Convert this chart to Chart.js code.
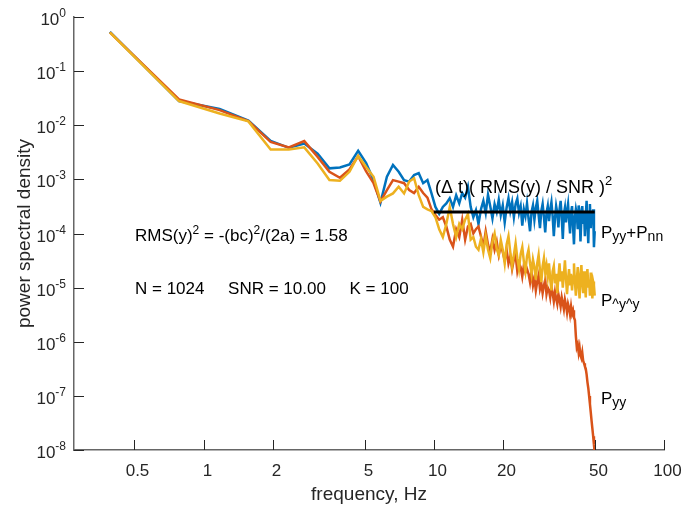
<!DOCTYPE html>
<html lang="en">
  <head>
    <meta charset="UTF-8" />
    <title>Power spectral density - Chart.js</title>
    <script src="https://cdn.jsdelivr.net/npm/chart.js"></script>
    <style>
      body {
        margin: 0;
        background: #fff;
      }
    </style>
  </head>
  <body>
    <canvas id="psdChart" width="692" height="510"></canvas>
    <script>
      // frequency grid (Hz)
      const freq = [
        0.391, 0.781, 1.172, 1.563, 1.953, 2.344, 2.734, 3.125, 3.516, 3.906,
        4.297, 4.688, 5.078, 5.469, 5.859, 6.25, 6.641, 7.031, 7.422, 7.813,
        8.203, 8.594, 8.984, 9.375, 9.766, 10.156, 10.547, 10.938, 11.328, 11.719,
        12.109, 12.5, 12.891, 13.281, 13.672, 14.063, 14.453, 14.844, 15.234, 15.625,
        16.016, 16.406, 16.797, 17.188, 17.578, 17.969, 18.359, 18.75, 19.141, 19.531,
        19.922, 20.313, 20.703, 21.094, 21.484, 21.875, 22.266, 22.656, 23.047, 23.438,
        23.828, 24.219, 24.609, 25, 25.391, 25.781, 26.172, 26.563, 26.953, 27.344,
        27.734, 28.125, 28.516, 28.906, 29.297, 29.688, 30.078, 30.469, 30.859, 31.25,
        31.641, 32.031, 32.422, 32.813, 33.203, 33.594, 33.984, 34.375, 34.766, 35.156,
        35.547, 35.938, 36.328, 36.719, 37.109, 37.5, 37.891, 38.281, 38.672, 39.063,
        39.453, 39.844, 40.234, 40.625, 41.016, 41.406, 41.797, 42.188, 42.578, 42.969,
        43.359, 43.75, 44.141, 44.531, 44.922, 45.313, 45.703, 46.094, 46.484, 46.875,
        47.266, 47.656, 48.047, 48.438, 48.828, 49.219, 49.609, 50
      ];

      // P_yy + P_nn (blue)
      const pyyPnn = [
        0.53, 0.028, 0.020, 0.0122, 5.15e-3, 3.83e-3, 4.6e-3, 3.0e-3, 1.6e-3, 1.66e-3,
        1.89e-3, 3.37e-3, 2.0e-3, 9.7e-4, 3.7e-4, 1.12e-3, 1.84e-3, 1.38e-3, 9.7e-4, 9.1e-4,
        1.2e-3, 1.3e-3, 8.5e-4, 9.7e-4, 5.5e-4, 3.1e-4, 2.3e-4, 3.1e-4, 3.6e-4, 4.5e-4,
        3.1e-4, 5.1e-4, 3.6e-4, 5.6e-4, 4.6e-4, 7.3e-4, 3.1e-4, 2.0e-4, 2.7e-4, 1.5e-4,
        2.8e-4, 4.0e-4, 2.4e-4, 5.2e-4, 3.2e-4, 1.9e-4, 3.5e-4, 2.5e-4, 4.2e-4, 2.2e-4,
        3.3e-4, 1.6e-4, 3.0e-4, 4.5e-4, 2.6e-4, 3.8e-4, 2.0e-4, 3.5e-4, 4.4e-4, 2.4e-4,
        3.2e-4, 1.4e-4, 2.8e-4, 2.1e-4, 3.6e-4, 1.9e-4, 1.1e-4, 2.5e-4, 3.3e-4, 1.8e-4,
        3.0e-4, 4.0e-4, 2.2e-4, 1.26e-4, 2.6e-4, 3.5e-4, 2.0e-4, 1.05e-4, 2.4e-4, 3.2e-4,
        1.7e-4, 2.8e-4, 3.8e-4, 2.1e-4, 8.9e-5, 1.9e-4, 3.2e-4, 2.4e-4, 1.3e-4, 2.75e-4,
        4.0e-4, 2.0e-4, 7.9e-5, 2.3e-4, 3.0e-4, 1.6e-4, 2.6e-4, 3.5e-4, 1.8e-4, 1.0e-4,
        2.4e-4, 3.2e-4, 1.4e-4, 6.3e-5, 2.0e-4, 2.8e-4, 2.2e-4, 1.2e-4, 3.3e-4, 2.5e-4,
        7.1e-5, 1.9e-4, 3.2e-4, 1.5e-4, 2.5e-4, 8.9e-5, 2.1e-4, 4.0e-4, 1.7e-4, 6.6e-5,
        2.4e-4, 3.5e-4, 1.26e-4, 2.5e-4, 1.8e-4, 2.8e-4, 5.6e-5, 1.1e-4
      ];

      // P_yy (red)
      const pyy = [
        0.52, 0.030, 0.019, 0.0120, 4.94e-3, 3.88e-3, 5.1e-3, 2.6e-3, 1.38e-3, 1.07e-3,
        1.53e-3, 2.69e-3, 1.4e-3, 8.5e-4, 3.9e-4, 6.35e-4, 9.7e-4, 9.1e-4, 8.5e-4, 6.35e-4,
        5.6e-4, 7.3e-4, 5.6e-4, 4.6e-4, 2.8e-4, 2.2e-4, 1.8e-4, 2.0e-4, 1.35e-4, 7.7e-5,
        5.7e-5, 1.2e-4, 8.6e-5, 1.8e-4, 7.7e-5, 1.35e-4, 1.5e-4, 1.0e-4, 1.2e-4, 1.35e-4,
        8.9e-5, 5.6e-5, 1.1e-4, 6.3e-5, 4.5e-5, 7.9e-5, 5.0e-5, 7.1e-5, 4.0e-5, 6.0e-5,
        4.5e-5, 3.2e-5, 5.0e-5, 2.8e-5, 3.8e-5, 2.2e-5, 3.3e-5, 4.0e-5, 2.0e-5, 2.8e-5,
        2.4e-5, 1.6e-5, 2.6e-5, 1.9e-5, 2.2e-5, 1.8e-5, 1.26e-5, 2.0e-5, 1.1e-5, 1.5e-5,
        8.9e-6, 1.3e-5, 1.7e-5, 9.5e-6, 1.2e-5, 7.9e-6, 1.1e-5, 1.4e-5, 7.6e-6, 1.0e-5,
        8.9e-6, 6.6e-6, 1.05e-5, 7.9e-6, 5.6e-6, 8.3e-6, 6.3e-6, 5.0e-6, 7.6e-6, 6.0e-6,
        4.5e-6, 6.6e-6, 5.2e-6, 4.0e-6, 6.0e-6, 4.8e-6, 3.5e-6, 5.0e-6, 4.2e-6, 3.2e-6,
        4.5e-6, 3.3e-6, 3.8e-6, 2.8e-6, 2.5e-6, 1.26e-6, 7.9e-7, 8.9e-7, 6.3e-7, 7.9e-7,
        5.6e-7, 5.0e-7, 6.3e-7, 4.5e-7, 4.0e-7, 3.5e-7, 3.2e-7, 2.5e-7, 1.8e-7, 1.4e-7,
        1.0e-7, 7.1e-8, 5.0e-8, 3.5e-8, 2.5e-8, 1.8e-8, 1.26e-8, 8.9e-9
      ];

      // P^y^y (yellow)
      const pHat = [
        0.52, 0.028, 0.0165, 0.0118, 3.57e-3, 3.57e-3, 3.9e-3, 1.97e-3, 9.7e-4, 9.4e-4,
        1.38e-3, 2.73e-3, 1.7e-3, 1.12e-3, 4.0e-4, 4.8e-4, 5.5e-4, 7.3e-4, 5.5e-4, 9.1e-4,
        1.05e-3, 5.1e-4, 3.1e-4, 2.8e-4, 2.6e-4, 2.0e-4, 1.2e-4, 8.6e-5, 1.5e-4, 3.1e-4,
        1.5e-4, 8.6e-5, 1.5e-4, 1.2e-4, 1.8e-4, 2.3e-4, 7.7e-5, 8.6e-5, 5.7e-5, 5.0e-5,
        7.9e-5, 4.5e-5, 8.9e-5, 5.0e-5, 3.5e-5, 7.1e-5, 1.0e-4, 5.2e-5, 4.0e-5, 7.6e-5,
        5.0e-5, 2.8e-5, 6.3e-5, 8.9e-5, 4.5e-5, 2.5e-5, 4.0e-5, 6.6e-5, 3.5e-5, 2.2e-5,
        4.2e-5, 5.6e-5, 3.0e-5, 2.0e-5, 3.8e-5, 5.0e-5, 2.8e-5, 1.8e-5, 3.3e-5, 2.4e-5,
        1.4e-5, 2.8e-5, 4.0e-5, 2.1e-5, 1.26e-5, 2.5e-5, 3.5e-5, 1.9e-5, 2.6e-5, 1.6e-5,
        2.8e-5, 1.4e-5, 8.9e-6, 2.0e-5, 2.5e-5, 1.2e-5, 1.8e-5, 7.9e-6, 1.6e-5, 2.8e-5,
        1.3e-5, 2.0e-5, 1.0e-5, 1.7e-5, 3.2e-5, 1.5e-5, 7.6e-6, 1.4e-5, 2.2e-5, 1.1e-5,
        1.8e-5, 8.9e-6, 1.6e-5, 2.8e-5, 1.26e-5, 7.1e-6, 1.4e-5, 2.4e-5, 1.1e-5, 6.3e-6,
        1.7e-5, 2.6e-5, 1.2e-5, 7.9e-6, 2.0e-5, 1.26e-5, 6.6e-6, 1.6e-5, 2.2e-5, 1.0e-5,
        1.4e-5, 7.1e-6, 1.9e-5, 1.1e-5, 6.3e-6, 1.3e-5, 1.1e-5, 7.1e-6
      ];

      // (dt)(RMS(y)/SNR)^2 level
      const floorX = [10, 50];
      const floorLevel = 2.5e-4;

      const xTicks = [0.5, 1, 2, 5, 10, 20, 50, 100];
      const xTickLabels = ['0.5', '1', '2', '5', '10', '20', '50', '100'];
      const yTickExps = [0, -1, -2, -3, -4, -5, -6, -7, -8];

      const FONT = '"Liberation Sans", Arial, sans-serif';
      const INK = '#262626';

      // draw text pieces with superscripts / subscripts
      function richText(ctx, parts, x, y, size, alignRight) {
        const supSize = Math.round(size * 0.72);
        const subSize = Math.round(size * 0.85);
        const fontFor = (k) => (k === 'sup' ? supSize : k === 'sub' ? subSize : size) + 'px ' + FONT;
        let w = 0;
        const segs = parts.map(([t, k]) => {
          ctx.font = fontFor(k);
          const m = ctx.measureText(t).width;
          w += m;
          return { t, k, m };
        });
        let cx = alignRight ? x - w : x;
        ctx.textAlign = 'left';
        ctx.textBaseline = 'alphabetic';
        segs.forEach((s) => {
          ctx.font = fontFor(s.k);
          let dy = 0;
          if (s.k === 'sup') dy = -size * 0.42;
          if (s.k === 'sub') dy = size * 0.2;
          ctx.fillText(s.t, cx, y + dy);
          cx += s.m;
        });
      }

      const decorations = {
        id: 'decorations',
        afterDraw(chart) {
          const ctx = chart.ctx;
          const xs = chart.scales.x;
          const ys = chart.scales.y;
          const a = chart.chartArea;
          ctx.save();
          ctx.fillStyle = INK;
          ctx.strokeStyle = INK;
          ctx.lineWidth = 1;

          // y ticks (inward) and labels 10^n
          yTickExps.forEach((e) => {
            const py = Math.round(ys.getPixelForValue(Math.pow(10, e))) + 0.5;
            ctx.beginPath();
            ctx.moveTo(a.left, py);
            ctx.lineTo(a.left + 10, py);
            ctx.stroke();
            richText(ctx, [['10'], [String(e), 'sup']], a.left - 8, py + 7, 17, true);
          });

          // x ticks (inward) and labels
          xTicks.forEach((v, i) => {
            const px = Math.round(xs.getPixelForValue(v)) + 0.5;
            ctx.beginPath();
            ctx.moveTo(px, a.bottom);
            ctx.lineTo(px, a.bottom - 10);
            ctx.stroke();
            ctx.font = '17px ' + FONT;
            ctx.textAlign = 'center';
            ctx.textBaseline = 'alphabetic';
            ctx.fillText(xTickLabels[i], px + 3, a.bottom + 26);
          });

          // axis titles
          ctx.font = '19px ' + FONT;
          ctx.textAlign = 'center';
          ctx.fillText('frequency, Hz', (a.left + a.right) / 2, 500);
          ctx.save();
          ctx.translate(30, (a.top + a.bottom) / 2);
          ctx.rotate(-Math.PI / 2);
          ctx.fillText('power spectral density', 0, 0);
          ctx.restore();

          // annotations
          ctx.fillStyle = '#000';
          richText(ctx, [['RMS(y)'], ['2', 'sup'], [' = -(bc)'], ['2', 'sup'], ['/(2a) = 1.58']], 135, 241, 17);
          richText(ctx, [['N = 1024     SNR = 10.00     K = 100']], 135, 294, 17);
          richText(ctx, [['(\u0394 t)( RMS(y) / SNR )'], ['2', 'sup']], 435, 193, 18);
          richText(ctx, [['P'], ['yy', 'sub'], ['+P'], ['nn', 'sub']], 601, 238, 17);
          richText(ctx, [['P'], ['^y^y', 'sub']], 601, 306, 17);
          richText(ctx, [['P'], ['yy', 'sub']], 601, 404, 17);
          ctx.restore();
        },
      };

      const toPts = (ys) => freq.map((f, i) => ({ x: f, y: ys[i] }));

      const line = (label, ys, color, order) => ({
        label: label,
        data: toPts(ys),
        borderColor: color,
        backgroundColor: color,
        borderWidth: 2.5,
        pointRadius: 0,
        tension: 0,
        fill: false,
        order: order,
      });

      const ctx = document.getElementById('psdChart').getContext('2d');
      new Chart(ctx, {
        type: 'line',
        data: {
          datasets: [
            {
              label: 'noise level',
              data: floorX.map((f) => ({ x: f, y: floorLevel })),
              borderColor: '#000',
              borderWidth: 3,
              pointRadius: 0,
              order: 0,
            },
            line('P^y^y', pHat, '#EDB120', 1),
            line('Pyy', pyy, '#D95319', 2),
            line('Pyy+Pnn', pyyPnn, '#0072BD', 3),
          ],
        },
        options: {
          responsive: false,
          animation: false,
          layout: { padding: { top: 17, right: 28, left: 0, bottom: 0 } },
          plugins: { legend: { display: false }, tooltip: { enabled: false } },
          scales: {
            x: {
              type: 'logarithmic',
              min: 0.273,
              max: 100,
              grid: { display: false, drawTicks: false },
              border: { display: true, color: '#666', width: 1.5 },
              ticks: { display: false },
              afterFit: (s) => {
                s.height = 60;
              },
            },
            y: {
              type: 'logarithmic',
              min: 1e-8,
              max: 1,
              grid: { display: false, drawTicks: false },
              border: { display: true, color: '#666', width: 1.5 },
              ticks: { display: false },
              afterFit: (s) => {
                s.width = 74;
              },
            },
          },
        },
        plugins: [decorations],
      });
    </script>
  </body>
</html>
